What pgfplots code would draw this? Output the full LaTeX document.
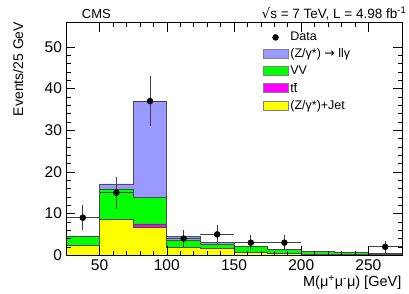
\documentclass[border=0pt]{standalone}
\usepackage{pgfplots}
\pgfplotsset{compat=1.18}
\usepackage{fontspec}
\setmainfont{Liberation Sans}
\newfontfamily\dejavu{DejaVu Sans}
\definecolor{zllg}{RGB}{153,153,255}
\definecolor{vvg}{RGB}{0,255,0}
\definecolor{ttm}{RGB}{255,0,255}
\definecolor{zjy}{RGB}{255,255,0}
\begin{document}
\begin{tikzpicture}[x=1pt,y=1pt]
\useasboundingbox (0,0) rectangle (409,294);
\begin{axis}[
  scale only axis, width=336pt, height=232.5pt,
  at={(66pt,38.8pt)}, anchor=south west,
  xmin=25, xmax=275, ymin=0, ymax=55.8,
  xtick={50,100,150,200,250}, ytick={0,10,20,30,40,50},
  minor x tick num=4, minor y tick num=4,
  tick align=inside, major tick length=9pt, minor tick length=4.5pt,
  tick style={black, line width=0.6pt},
  axis line style={black, line width=0.8pt},
  axis on top,
  /pgf/number format/assume math mode=true,
  ticklabel style={font=\fontsize{15.5}{18}\selectfont},
  yticklabel style={xshift=-0.5pt},
  xticklabel style={yshift=-0.5pt},
  legend style={draw=none, fill=none, at={(axis description cs:0.585,0.968)}, anchor=north west,
    font=\fontsize{12.5}{14}\selectfont, row sep=2.4pt, inner sep=0pt},
  legend cell align=left,
  area legend,
  legend image code/.code={\draw[#1, draw=black!50, line width=0.6pt] (0pt,-4.6pt) rectangle (25pt,4.6pt);},
]
\addlegendimage{legend image code/.code={\fill[black] (12.5pt,0pt) circle (3pt);}}
\addlegendentry{Data}
% white component (bin 250-275)
\addplot[const plot, fill=white, draw=black, line width=0.8pt, forget plot]
  coordinates {(250,2.0) (275,2.0)} \closedcycle;
% (Z/gamma*)->ll gamma, top of stack
\addplot[const plot, fill=zllg, draw=black!70, line width=0.8pt]
  coordinates {(25,4.6) (50,17.1) (75,36.8) (100,4.6) (125,3.0) (150,2.1) (175,1.45) (200,1.0) (225,0.6) (250,0.5) (275,0.5)} \closedcycle;
\addlegendentry{(Z/γ*) {\dejavu→} llγ}
\addplot[const plot, fill=vvg, draw=black!70, line width=0.8pt]
  coordinates {(25,4.5) (50,15.9) (75,13.9) (100,3.5) (125,2.6) (150,2.0) (175,1.4) (200,1.0) (225,0.6) (250,0.5) (275,0.5)} \closedcycle;
\addlegendentry{VV}
\addplot[const plot, fill=ttm, draw=black!70, line width=0.8pt]
  coordinates {(25,2.3) (50,8.5) (75,7.5) (100,1.9) (125,1.7) (150,0.7) (175,0.5) (200,0.3) (225,0.1) (250,0.1) (275,0.1)} \closedcycle;
\addlegendentry{t$\overline{\mbox{t}}$}
\addplot[const plot, fill=zjy, draw=black!70, line width=0.8pt]
  coordinates {(25,2.3) (50,8.5) (75,6.7) (100,1.8) (125,1.7) (150,0.7) (175,0.5) (200,0.3) (225,0.1) (250,0.1) (275,0.1)} \closedcycle;
\addlegendentry{(Z/γ*)+Jet}
% data
\addplot[only marks, mark=*, mark size=3pt, black, forget plot,
  error bars/.cd, x dir=both, x explicit, y dir=both, y explicit,
  error mark=none, error bar style={black!75, line width=0.8pt}]
  coordinates {
  (37.5,9) +- (12.5,3.0)
  (62.5,15) +- (12.5,3.87)
  (87.5,37) +- (12.5,6.08)
  (112.5,4) +- (12.5,2.0)
  (137.5,5) +- (12.5,2.24)
  (162.5,3) +- (12.5,1.73)
  (187.5,3) +- (12.5,1.73)
  (262.5,2) +- (12.5,1.41)
  };
\end{axis}
\node[anchor=base west, inner sep=0pt, font=\fontsize{13}{15}\selectfont] at (81.7,275.7) {CMS};
\node[anchor=base east, inner sep=0pt, font=\fontsize{13.5}{15}\selectfont] at (406.5,275.7) {{\dejavu√}s = 7 TeV, L = 4.98 fb\textsuperscript{-1}};
\node[rotate=90, anchor=base east, inner sep=0pt, font=\fontsize{14}{16}\selectfont] at (23,272.3) {Events/25 GeV};
\node[anchor=base east, inner sep=0pt, font=\fontsize{14.5}{16}\selectfont] at (401.5,7.3) {M(μ\textsuperscript{+}μ\textsuperscript{-}μ) [GeV]};
\end{tikzpicture}
\end{document}
